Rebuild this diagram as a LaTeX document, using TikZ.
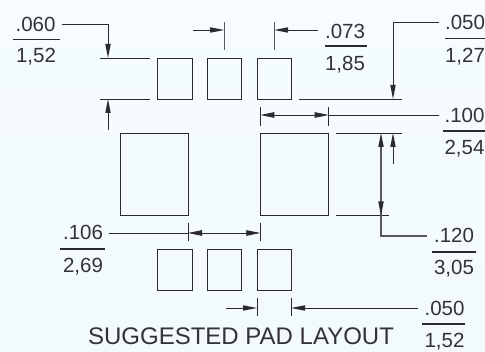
\documentclass[tikz,border=0pt]{standalone}
\usepackage{fontspec}
\setmainfont{Liberation Sans}
\usetikzlibrary{arrows.meta}
\definecolor{ink}{HTML}{2B2B2B}
\definecolor{txt}{HTML}{333333}
\definecolor{gry}{HTML}{5A5A5A}
\definecolor{bgtop}{HTML}{F6FCFF}
\definecolor{bgbot}{HTML}{F2FAFE}
\begin{document}
\begin{tikzpicture}[x=1pt,y=-1pt,
  pad/.style={draw=ink,line width=0.9pt,minimum width=34.5pt,minimum height=41pt,inner sep=0,outer sep=0},
  bigpad/.style={draw=ink,line width=0.9pt,minimum width=68.5pt,minimum height=82.5pt,inner sep=0,outer sep=0},
  lab/.style={font=\fontsize{20.5}{20.5}\selectfont,text=txt,anchor=base,inner sep=0},
  ttl/.style={font=\fontsize{24}{24}\selectfont,text=txt,anchor=base,inner sep=0},
  ln/.style={draw=ink,line width=0.8pt},
  gln/.style={draw=gry,line width=1.1pt},
  bar/.style={draw=ink,line width=1.1pt},
  tip/.style={-{Triangle[length=14pt,width=5.5pt,color=ink,line width=0pt]}},
  tipb/.style={{Triangle[length=14pt,width=5.5pt]}-{Triangle[length=14pt,width=5.5pt]}}]
\useasboundingbox (0,0) rectangle (485,352);
\fill[top color=bgtop,bottom color=bgbot] (0,0) rectangle (485,352);
% pads
\node[pad] (t1) at (174.75,78.5) {};
\node[pad] (t2) at (224.25,78.5) {};
\node[pad] (t3) at (274.25,78.5) {};
\node[pad] (b1) at (174.75,270) {};
\node[pad] (b2) at (224.25,270) {};
\node[pad] (b3) at (274.25,270) {};
\node[bigpad] (l) at (154.25,174.25) {};
\node[bigpad] (r) at (294.5,174.25) {};
% labels
\node[lab] (a1) at (35.5,32) {.060};
\node[lab] (a2) at (36,63) {1,52};
\node[lab] (c1) at (345,39) {.073};
\node[lab] (c2) at (345,71) {1,85};
\node[lab] (d1) at (465,30) {.050};
\node[lab] (d2) at (465,63) {1,27};
\node[lab] (e1) at (464.5,123) {.100};
\node[lab] (e2) at (464.5,155) {2,54};
\node[lab] (f1) at (83,240) {.106};
\node[lab] (f2) at (83,273) {2,69};
\node[lab] (g1) at (454,243) {.120};
\node[lab] (g2) at (454,275) {3,05};
\node[lab] (h1) at (444.5,316) {.050};
\node[lab] (h2) at (444.5,348) {1,52};
\node[ttl] (title) at (241,345) {SUGGESTED PAD LAYOUT};
% fraction bars
\draw[bar] (13,39.5) -- (60,39.5);
\draw[bar] (325,46) -- (367,46);
\draw[bar] (445,38.5) -- (485,38.5);
\draw[bar] (443,131) -- (485,131);
\draw[bar] (60,249) -- (105,249);
\draw[bar] (432,252) -- (476,252);
\draw[bar] (422,324) -- (465,324);
% .060
\draw[ln] (100,58) -- (150,58);
\draw[ln] (100,99) -- (150,99);
\draw[ln,tip] (62,24.5) -| (108,58);
\draw[ln,tip] (108,130) -- (108,99);
% .073
\draw[gln] (224.2,22) -- (224.2,50);
\draw[gln] (274.2,22) -- (274.2,50);
\draw[ln,tip] (193,30) -- (224.2,30);
\draw[ln,tip] (318,30) -- (274.2,30);
% .050 top
\draw[ln] (298.5,99) -- (401.5,99);
\draw[ln,tip] (439,22.5) -| (393,99);
% .100
\draw[ln] (260.3,107) -- (260.3,126);
\draw[ln] (328.7,107) -- (328.7,126);
\draw[ln,tipb] (260.3,115) -- (328.7,115);
\draw[ln] (328.7,115) -- (439,115);
% .120
\draw[ln] (336,133) -- (401.5,133);
\draw[ln] (336,215.5) -- (389,215.5);
\draw[ln,tip] (393,164) -- (393,133);
\draw[gln] (381,146) -- (381,236) -- (427,236);
\draw[gln,tip] (381,160) -- (381,133);
\draw[gln,tip] (381,190) -- (381,215.5);
% .106
\draw[ln] (188,223) -- (188,241);
\draw[ln] (260.3,223) -- (260.3,241);
\draw[ln,tipb] (188,233) -- (260.3,233);
\draw[ln] (109,233) -- (188,233);
% .050 bottom
\draw[ln] (257,298) -- (257,316);
\draw[ln] (291,298) -- (291,316);
\draw[ln,tip] (226,308) -- (257,308);
\draw[ln,tip] (418,308) -- (291,308);
\end{tikzpicture}
\end{document}
